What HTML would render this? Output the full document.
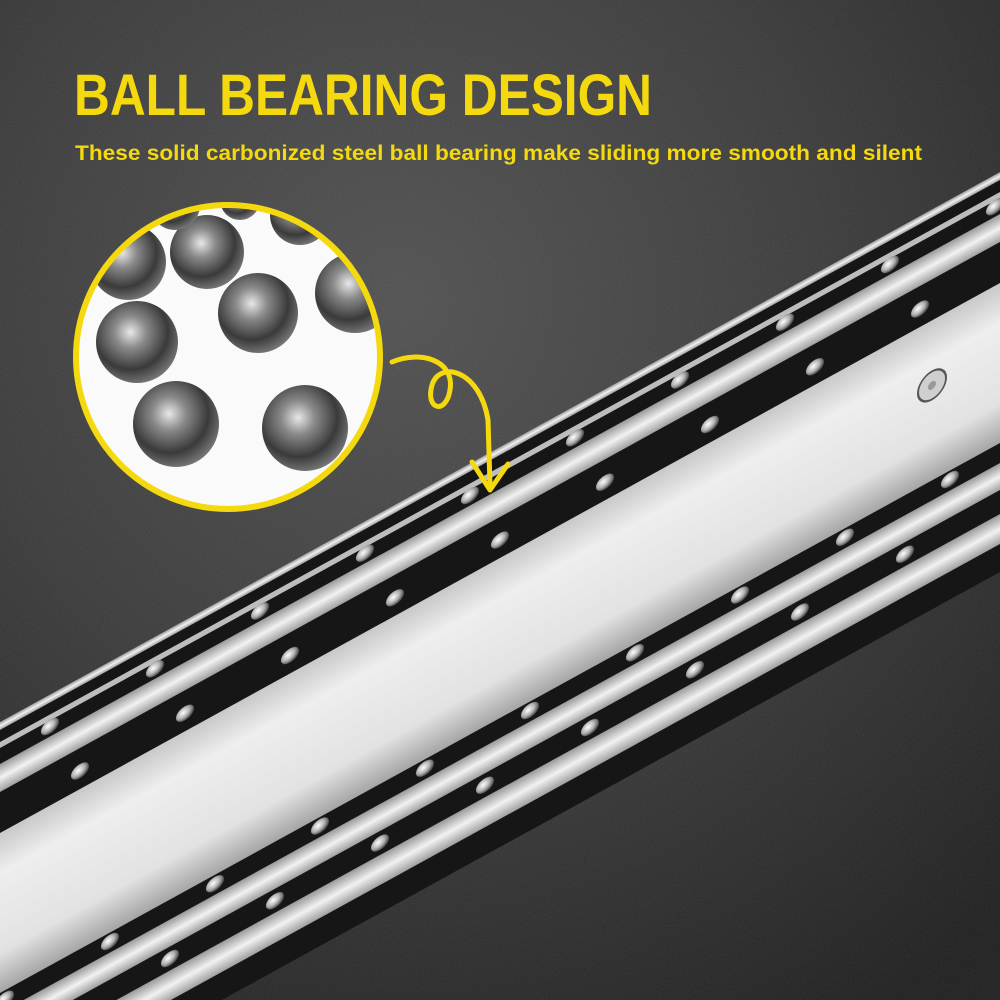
<!DOCTYPE html>
<html><head><meta charset="utf-8"><style>
html,body{margin:0;padding:0;width:1000px;height:1000px;overflow:hidden;background:#2b2b2b}
svg{display:block}
</style></head><body>
<svg width="1000" height="1000" viewBox="0 0 1000 1000" xmlns="http://www.w3.org/2000/svg">
<defs>
<radialGradient id="bg" cx="0.4" cy="0.3" r="0.85">
<stop offset="0" stop-color="#4e4e4e"/><stop offset="0.5" stop-color="#383838"/><stop offset="1" stop-color="#1c1c1c"/>
</radialGradient>
<linearGradient id="panel" x1="0" y1="0" x2="0" y2="1">
<stop offset="0" stop-color="#c8c8c8"/><stop offset="0.25" stop-color="#eeeeee"/><stop offset="0.75" stop-color="#e2e2e2"/><stop offset="1" stop-color="#a5a5a5"/>
</linearGradient>
<linearGradient id="silver" x1="0" y1="0" x2="0" y2="1">
<stop offset="0" stop-color="#9a9a9a"/><stop offset="0.5" stop-color="#f2f2f2"/><stop offset="1" stop-color="#a0a0a0"/>
</linearGradient>
<radialGradient id="ball" cx="0.42" cy="0.38" r="0.65">
<stop offset="0" stop-color="#e8e8e8"/><stop offset="0.3" stop-color="#8a8a8a"/><stop offset="0.7" stop-color="#3a3a3a"/><stop offset="1" stop-color="#7a7a7a"/>
</radialGradient>
<radialGradient id="sball" cx="0.4" cy="0.4" r="0.6">
<stop offset="0" stop-color="#ffffff"/><stop offset="0.6" stop-color="#b0b0b0"/><stop offset="1" stop-color="#505050"/>
</radialGradient>
<pattern id="balls" x="0" y="-10" width="105" height="20" patternUnits="userSpaceOnUse">
<ellipse cx="50" cy="10" rx="9" ry="7" fill="url(#sball)"/>
</pattern>
<clipPath id="cc"><circle cx="228" cy="357" r="150"/></clipPath>
<clipPath id="frame"><rect width="1000" height="1000"/></clipPath>
<filter id="noise"><feTurbulence type="fractalNoise" baseFrequency="0.9" numOctaves="2"/><feColorMatrix values="0 0 0 0 1 0 0 0 0 1 0 0 0 0 1 0 0 0 0.22 0"/></filter>
</defs>
<rect width="1000" height="1000" fill="url(#bg)"/>
<rect width="1000" height="1000" filter="url(#noise)" opacity="0.5"/>

<g clip-path="url(#frame)">
<g transform="matrix(1,-0.55,0,1,0,722)">
<rect x="-50" y="0" width="1100" height="400" fill="#161616"/>
<rect x="-50" y="0" width="1100" height="8" fill="url(#silver)"/>
<rect x="-50" y="20" width="1100" height="6" fill="#bdbdbd"/>
<g transform="translate(0,32)"><rect x="-50" y="-10" width="1100" height="20" fill="url(#balls)"/></g>
<rect x="-50" y="42" width="1100" height="28" fill="url(#silver)"/>
<g transform="translate(30,93)"><rect x="-80" y="-10" width="1100" height="20" fill="url(#balls)"/></g>
<rect x="-50" y="111" width="1100" height="160" fill="url(#panel)"/>
<g transform="translate(60,280)"><rect x="-110" y="-10" width="1100" height="20" fill="url(#balls)"/></g>
<rect x="-50" y="291" width="1100" height="27" fill="url(#silver)"/>
<g transform="translate(15,330)"><rect x="-65" y="-10" width="1100" height="20" fill="url(#balls)"/></g>
<rect x="-50" y="342" width="1100" height="30" fill="url(#silver)"/>
<circle cx="932" cy="176" r="14" fill="#cfcfcf" stroke="#555" stroke-width="2"/>
<circle cx="932" cy="176" r="4" fill="#999"/>
</g>
</g>

<circle cx="228" cy="357" r="152" fill="#fafafa"/>
<g clip-path="url(#cc)">
<circle cx="128" cy="262" r="38" fill="url(#ball)"/>
<circle cx="207" cy="252" r="37" fill="url(#ball)"/>
<circle cx="300" cy="215" r="30" fill="url(#ball)"/>
<circle cx="355" cy="293" r="40" fill="url(#ball)"/>
<circle cx="258" cy="313" r="40" fill="url(#ball)"/>
<circle cx="137" cy="342" r="41" fill="url(#ball)"/>
<circle cx="176" cy="424" r="43" fill="url(#ball)"/>
<circle cx="305" cy="428" r="43" fill="url(#ball)"/>
<circle cx="175" cy="205" r="25" fill="url(#ball)"/>
<circle cx="240" cy="200" r="20" fill="url(#ball)"/>
</g>
<circle cx="228" cy="357" r="152" fill="none" stroke="#f5d90f" stroke-width="6"/>

<path d="M392,362 C420,350 455,360 450,390 C446,415 425,410 432,385 C440,360 480,370 488,420 L490,485" fill="none" stroke="#f5d90f" stroke-width="5" stroke-linecap="round"/>
<path d="M472,462 L490,490 L508,464" fill="none" stroke="#f5d90f" stroke-width="5" stroke-linecap="round" stroke-linejoin="round"/>

<text x="74" y="115" font-family="Liberation Sans, sans-serif" font-weight="bold" font-size="58" fill="#f5d90f" textLength="578" lengthAdjust="spacingAndGlyphs">BALL BEARING DESIGN</text>
<text x="75" y="160" font-family="Liberation Sans, sans-serif" font-weight="600" font-size="21" fill="#f5d90f" textLength="847" lengthAdjust="spacingAndGlyphs">These solid carbonized steel ball bearing make sliding more smooth and silent</text>
</svg>
</body></html>
